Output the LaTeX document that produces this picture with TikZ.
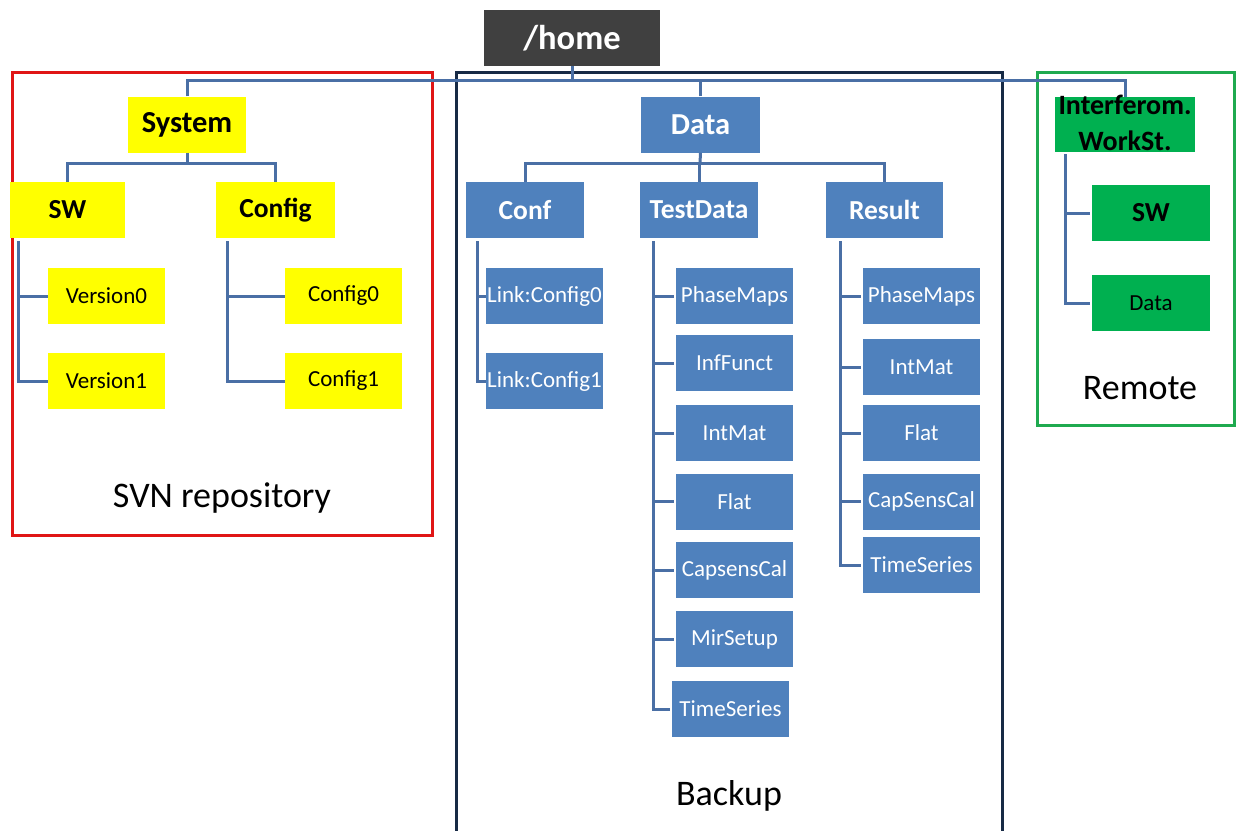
\documentclass[tikz,border=0pt]{standalone}
\usepackage{fontspec}
\setmainfont{Carlito}
\definecolor{yfill}{HTML}{FFFF00}
\definecolor{bfill}{HTML}{4F81BD}
\definecolor{gfill}{HTML}{00B050}
\definecolor{hfill}{HTML}{404040}
\definecolor{conn}{HTML}{4A6FA5}
\definecolor{navy}{HTML}{172A45}
\definecolor{redf}{HTML}{E01515}
\definecolor{greenf}{HTML}{1FAA4F}
\tikzset{
  box/.style={rectangle, inner sep=0pt, minimum width=117pt, minimum height=56pt, font=\fontsize{23}{27}\selectfont},
  lvl/.style={box, minimum width=118pt, font=\fontsize{27.5}{32}\selectfont\bfseries},
  big/.style={font=\fontsize{30.5}{35}\selectfont\bfseries},
  ybox/.style={fill=yfill, text=black},
  bbox/.style={fill=bfill, text=white},
  gbox/.style={fill=gfill, text=black},
  wire/.style={draw=conn, line width=3pt, line join=miter},
  frame/.style={line width=3pt},
  caption/.style={font=\fontsize{36}{42}\selectfont, text=black}
}
\begin{document}
\begin{tikzpicture}[x=1pt,y=-1pt]
\useasboundingbox (0,0) rectangle (1238,830);
\fill[white] (0,0) rectangle (1238,830);

% frames
\draw[frame, draw=redf] (12,72) rectangle (432,535);
\draw[frame, draw=navy] (456,72) rectangle (1002,845);
\draw[frame, draw=greenf] (1037,72) rectangle (1234,425);

% nodes
\node[rectangle, fill=hfill, text=white, minimum width=176pt, minimum height=56pt, inner sep=0pt, font=\fontsize{34.5}{40}\selectfont\bfseries] (home) at (572,38) {/home};

\node[lvl, ybox, big] (sys) at (187,124.5) {System};
\node[lvl, ybox, minimum width=115pt] (sw) at (67.5,210) {SW};
\node[lvl, ybox, minimum width=119pt] (cfg) at (275.5,210) {Config};
\node[box, ybox] (v0) at (106.5,296) {Version0};
\node[box, ybox] (v1) at (106.5,381) {Version1};
\node[box, ybox] (c0) at (343.5,296) {Config0};
\node[box, ybox] (c1) at (343.5,381) {Config1};

\node[lvl, bbox, big, minimum width=119pt] (data) at (700.5,124.5) {Data};
\node[lvl, bbox] (conf) at (525,210) {Conf};
\node[lvl, bbox] (td) at (699,210) {TestData};
\node[lvl, bbox, minimum width=117pt] (res) at (884.5,210) {Result};
\node[box, bbox] (l0) at (544.5,296) {Link:Config0};
\node[box, bbox] (l1) at (544.5,381) {Link:Config1};

\node[box, bbox] (t1) at (734.5,296) {PhaseMaps};
\node[box, bbox] (t2) at (734.5,363) {InfFunct};
\node[box, bbox] (t3) at (734.5,433) {IntMat};
\node[box, bbox] (t4) at (734.5,501.5) {Flat};
\node[box, bbox] (t5) at (734.5,570) {CapsensCal};
\node[box, bbox] (t6) at (734.5,639) {MirSetup};
\node[box, bbox] (t7) at (730.5,709) {TimeSeries};

\node[box, bbox] (r1) at (921.5,296) {PhaseMaps};
\node[box, bbox] (r2) at (921.5,367) {IntMat};
\node[box, bbox] (r3) at (921.5,433) {Flat};
\node[box, bbox] (r4) at (921.5,501.5) {CapSensCal};
\node[box, bbox] (r5) at (921.5,565) {TimeSeries};

\node[box, gbox, minimum width=140pt, minimum height=55pt] (iw) at (1125,124.5) {};
\node[align=center, inner sep=0pt, font=\fontsize{28}{36}\selectfont\bfseries, text=black] (iwt) at (1125,123) {Interferom.\\WorkSt.};
\node[lvl, gbox, minimum width=118pt] (gsw) at (1151,213) {SW};
\node[box, gbox, minimum width=118pt] (gdata) at (1151,303) {Data};

% captions
\node[caption] (svn) at (222,498) {SVN repository};
\node[caption] (bak) at (729,796) {Backup};
\node[caption] (rem) at (1140,388) {Remote};

% connectors
\coordinate (hb) at (572,80);
\draw[wire] (home.south) -- (hb);
\draw[wire] (sys.north) |- (hb) -| (iw.north);
\draw[wire] (data.north) -- (data.north |- hb);

\coordinate (sysb) at (187,163);
\draw[wire] (sys.south) -- (sysb);
\draw[wire] (sw.north) |- (sysb) -| (cfg.north);

\coordinate (datab) at (700,163);
\draw[wire] (data.south) -- (datab);
\draw[wire] (conf.north) |- (datab) -| (res.north);
\draw[wire] (td.north) -- (td.north |- datab);

\coordinate (swl) at (18,241);
\draw[wire] (swl) |- (v0.west);
\draw[wire] (swl) |- (v1.west);
\coordinate (cfl) at (227,241);
\draw[wire] (cfl) |- (c0.west);
\draw[wire] (cfl) |- (c1.west);

\coordinate (cfgl) at (477,241);
\draw[wire] (cfgl) |- (l0.west);
\draw[wire] (cfgl) |- (l1.west);

\coordinate (tdl) at (653,241);
\foreach \n in {t1,t2,t3,t4,t5,t6,t7} {\draw[wire] (tdl) |- ([xshift=-2pt]\n.west);}

\coordinate (rsl) at (840,241);
\foreach \n in {r1,r2,r3,r4,r5} {\draw[wire] (rsl) |- ([xshift=-2pt]\n.west);}

\coordinate (iwl) at (1065,154);
\draw[wire] (iwl) |- ([xshift=-2pt]gsw.west);
\draw[wire] (iwl) |- ([xshift=-2pt]gdata.west);
\end{tikzpicture}
\end{document}
